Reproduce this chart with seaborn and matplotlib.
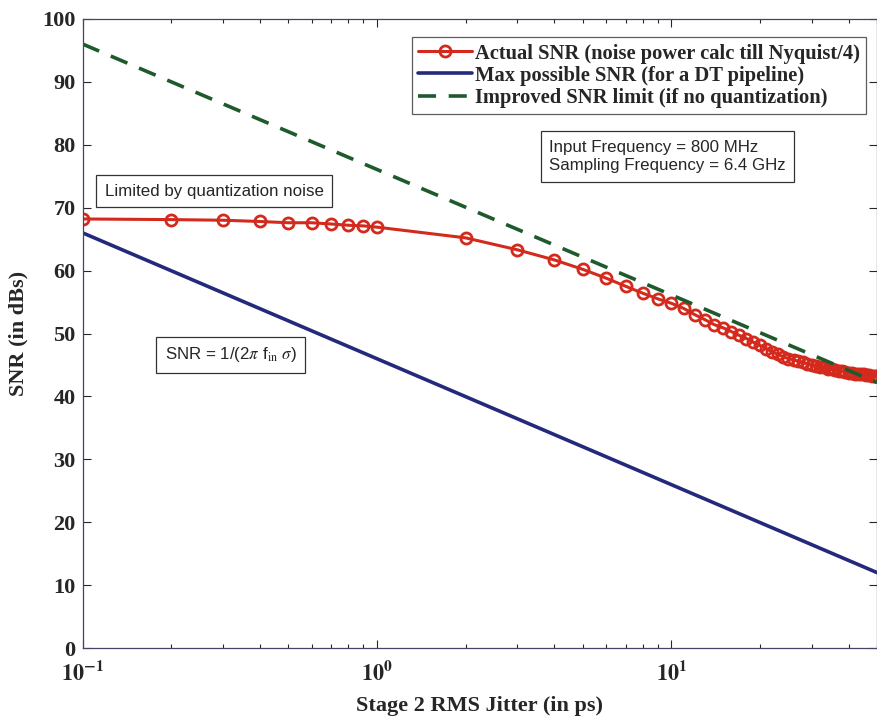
import numpy as np
import pandas as pd
import matplotlib
matplotlib.use('Agg')
import matplotlib.pyplot as plt
import seaborn as sns

# data
jitter_ps = [0.1, 0.2, 0.3, 0.4, 0.5, 0.6, 0.7, 0.8, 0.9, 1.0,
             2, 3, 4, 5, 6, 7, 8, 9, 10, 11, 12, 13, 14, 15, 16, 17, 18, 19, 20,
             21, 22, 23, 24, 25, 26, 27, 28, 29, 30, 31, 32, 33, 34, 35, 36, 37,
             38, 39, 40, 41, 42, 43, 44, 45, 46, 47, 48, 49, 50]
actual_snr = [68.2, 68.1, 68.0, 67.8, 67.6, 67.6, 67.4, 67.2, 67.1, 66.9,
              65.2, 63.3, 61.7, 60.2, 58.8, 57.5, 56.4, 55.5, 54.8, 54.0, 53.0,
              52.2, 51.4, 50.9, 50.3, 49.7, 49.2, 48.6, 48.1, 47.6, 47.1, 46.7,
              46.3, 46.0, 45.8, 45.6, 45.4, 45.2, 45.0, 44.9, 44.7, 44.6, 44.4,
              44.3, 44.2, 44.1, 44.0, 43.9, 43.8, 43.7, 43.6, 43.6, 43.5, 43.5,
              43.4, 43.4, 43.3, 43.3, 43.2]
max_x = [0.1, 50]
max_snr = [66.0, 12.0]
improved_x = [0.1, 50]
improved_snr = [96.0, 42.2]

x_ticks = [0.1, 1, 10]
x_ticklabels = [r'$\mathbf{10^{-1}}$', r'$\mathbf{10^{0}}$', r'$\mathbf{10^{1}}$']
y_ticks = list(range(0, 101, 10))

legend_labels = ['Actual SNR (noise power calc till Nyquist/4)',
                 'Max possible SNR (for a DT pipeline)',
                 'Improved SNR limit (if no quantization)']

df_actual = pd.DataFrame({'jitter': jitter_ps, 'snr': actual_snr})
df_max = pd.DataFrame({'jitter': max_x, 'snr': max_snr})
df_impr = pd.DataFrame({'jitter': improved_x, 'snr': improved_snr})

sns.set_style('ticks')
plt.rcParams['font.family'] = ['Liberation Serif', 'DejaVu Serif']
plt.rcParams['mathtext.fontset'] = 'stix'

red = '#d42a1e'
navy = '#232a7c'
green = '#1e5a2c'

fig = plt.figure(figsize=(8.78, 7.25), dpi=100)
ax = fig.add_axes([0.094, 0.106, 0.905, 0.868])

sns.lineplot(data=df_actual, x='jitter', y='snr', ax=ax, color=red, lw=2.2,
             marker='o', markersize=8, markerfacecolor='none',
             markeredgecolor=red, markeredgewidth=2.0, label=legend_labels[0])
sns.lineplot(data=df_max, x='jitter', y='snr', ax=ax, color=navy, lw=2.6,
             label=legend_labels[1])
sns.lineplot(data=df_impr, x='jitter', y='snr', ax=ax, color=green, lw=2.6,
             dashes=False, label=legend_labels[2])
ax.lines[-1].set_dashes((5, 3.5))

ax.set_xscale('log')
ax.set_xlim(0.1, 50)
ax.set_ylim(0, 100)
ax.set_xticks(x_ticks)
ax.set_xticklabels(x_ticklabels)
ax.set_yticks(y_ticks)
ax.tick_params(axis='both', which='both', direction='in', top=True, right=True,
               labelsize=16)
ax.tick_params(axis='y', pad=5)
ax.tick_params(axis='x', pad=9)
ax.tick_params(which='major', length=6, width=0.8)
ax.tick_params(which='minor', length=3, width=0.8)
for lab in ax.get_yticklabels():
    lab.set_fontweight('bold')
for sp in ax.spines.values():
    sp.set_color('#444466')
    sp.set_linewidth(0.9)

ax.set_xlabel('Stage 2 RMS Jitter (in ps)', fontsize=16, fontweight='bold', labelpad=8)
ax.set_ylabel('SNR (in dBs)', fontsize=16, fontweight='bold', labelpad=10)

leg = ax.legend(loc='upper right', bbox_to_anchor=(0.991, 0.977), frameon=True,
                fancybox=False, edgecolor='#333333', handlelength=2.6,
                handletextpad=0.15, borderpad=0.3, borderaxespad=0.2,
                labelspacing=0.1,
                prop={'family': 'Liberation Serif', 'weight': 'bold', 'size': 14.8})
leg.get_frame().set_linewidth(0.9)

box = dict(boxstyle='square,pad=0.5', facecolor='white', edgecolor='#333333', lw=0.9)
ax.text(0.119, 72.6, 'Limited by quantization noise', fontsize=12.2,
        family='Liberation Sans', ha='left', va='center', bbox=box)
ax.text(3.85, 78.1, 'Input Frequency = 800 MHz\nSampling Frequency = 6.4 GHz',
        fontsize=12.2, family='Liberation Sans', ha='left', va='center',
        linespacing=1.3, bbox=box)
ax.text(0.19, 46.6, r'SNR = 1/(2$\pi$ f$_{\rm in}$ $\sigma$)', fontsize=12.2,
        family='Liberation Sans', ha='left', va='center', bbox=box)

sns.despine(ax=ax, top=False, right=False)
fig.savefig('out.png', dpi=100)
